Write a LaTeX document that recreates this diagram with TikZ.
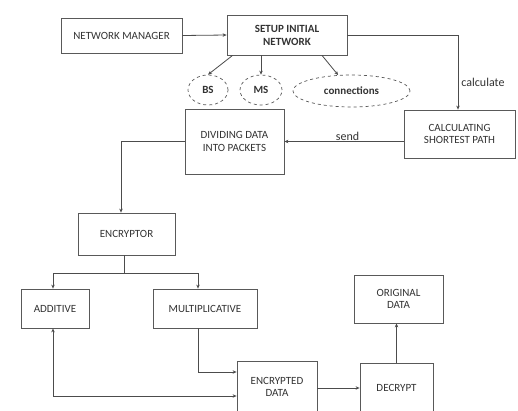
\documentclass[tikz,border=0pt]{standalone}
\usepackage{fontspec}
\setmainfont{Carlito}
\usetikzlibrary{arrows.meta,shapes.geometric,calc}
\begin{document}
\begin{tikzpicture}[x=1pt,y=-1pt,
  every node/.style={font=\fontsize{11}{12.5}\selectfont, text=black!80},
  boxst/.style={draw=black!65, line width=0.8pt, rectangle, inner sep=0pt, align=center},
  ellst/.style={draw=black!65, line width=0.7pt, dashed, ellipse, inner sep=0pt, font=\fontsize{11}{12.5}\selectfont\bfseries},
  conn/.style={draw=black!70, line width=0.8pt},
  arr/.style={conn, -{Stealth[length=4pt,width=3.5pt]}},
  biarr/.style={conn, {Stealth[length=4pt,width=3.5pt]}-{Stealth[length=4pt,width=3.5pt]}},
  lbl/.style={inner sep=1pt, font=\fontsize{12}{13}\selectfont}]
\useasboundingbox[fill=white] (0,0) rectangle (518,410);

\node[boxst, minimum width=121pt, minimum height=35pt] (nm) at (121.5,35.5) {NETWORK MANAGER};
\node[boxst, minimum width=120pt, minimum height=40pt, font=\fontsize{11}{13}\selectfont\bfseries] (setup) at (287,35) {SETUP INITIAL\\NETWORK};
\node[ellst, minimum width=40pt, minimum height=30pt] (bs) at (208,90) {BS};
\node[ellst, minimum width=42pt, minimum height=30pt] (ms) at (261,90) {MS};
\node[ellst, minimum width=117pt, minimum height=32pt] (cn) at (351.5,91) {connections};
\node[boxst, minimum width=99pt, minimum height=65pt] (div) at (234.5,141.5) {DIVIDING DATA\\INTO PACKETS};
\node[boxst, minimum width=111pt, minimum height=48pt] (calc) at (459.5,134) {CALCULATING\\SHORTEST PATH};
\node[boxst, minimum width=97pt, minimum height=42pt] (enc) at (126.5,234) {ENCRYPTOR};
\node[boxst, minimum width=68pt, minimum height=39pt] (add) at (55,308.5) {ADDITIVE};
\node[boxst, minimum width=104pt, minimum height=39pt] (mult) at (205,308.5) {MULTIPLICATIVE};
\node[boxst, minimum width=80pt, minimum height=52pt] (encd) at (277,387) {ENCRYPTED\\DATA};
\node[boxst, minimum width=73pt, minimum height=50pt] (dec) at (396.5,388) {DECRYPT};
\node[boxst, minimum width=89pt, minimum height=48pt] (orig) at (398.5,299) {ORIGINAL\\DATA};

% helper coordinates
\coordinate (sbs) at ($(setup.south west)+(6,0)$);
\coordinate (scn) at ($(setup.south)+(35,0)$);
\coordinate (dturn) at ($(enc.north)+(-5.5,0)$);
\coordinate (split) at ($(enc.south)+(-2.5,18)$);
\coordinate (mtop) at ($(mult.north)+(-7,0)$);
\coordinate (mbot) at ($(mult.south)+(-7,0)$);
\coordinate (abot) at ($(add.south)+(-2,0)$);
\coordinate (atop) at ($(add.north)+(-2,0)$);
\coordinate (ein1) at ($(encd.west)+(0,-15)$);
\coordinate (ein2) at ($(encd.west)+(0,9)$);

\draw[arr] (nm.east) -- (setup.west);
\draw[arr] (setup.east) -| node[lbl, pos=0.82, right, xshift=2pt] {calculate} (calc.north -| 458,0);
\draw[arr] (sbs) -- (bs.north);
\draw[arr] (ms.north |- setup.south) -- (ms.north);
\draw[arr] (scn) -- (cn.130);
\draw[arr] (calc.west |- div.east) -- node[lbl, above, pos=0.47] {send} (div.east);
\draw[arr] (div.west) -| (dturn);
\draw[conn] (enc.south -| split) -- (split);
\draw[arr] (split) -| (atop);
\draw[arr] (split) -| (mtop);
\draw[arr] (mbot) |- (ein1);
\draw[biarr] (abot) |- (ein2);
\draw[arr] (encd.east |- dec.west) -- (dec.west);
\draw[arr] (dec.north) -- (dec.north |- orig.south);
\end{tikzpicture}
\end{document}
